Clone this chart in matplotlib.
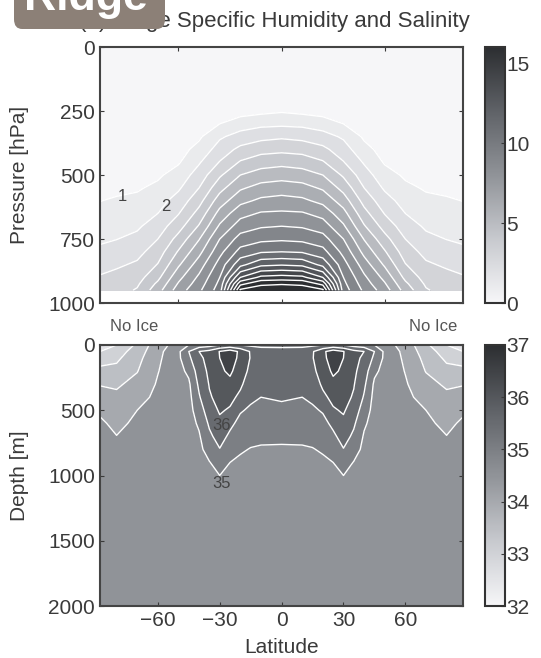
import numpy as np
import matplotlib
matplotlib.use('Agg')
import matplotlib.pyplot as plt
from matplotlib.colors import LinearSegmentedColormap, Normalize
from matplotlib.patches import FancyBboxPatch
import matplotlib.cm as cm

#==============================================================================
#                         Data (southern half)
#==============================================================================
lat_half = np.array([-88, -80, -70, -60, -50, -40, -30, -20, -10, 0])
pres = np.array([0, 150, 250, 300, 350, 400, 450, 500, 550, 600, 650, 700,
                 750, 800, 850, 900, 925, 950])
# specific humidity [g/kg], one column per latitude
q_m88 = [0, .05, .1, .15, .2, .3, .4, .55, .75, .98, 1.25, 1.55, 1.85, 2.2, 2.6, 3.1, 3.25, 3.4]
q_m80 = [0, .05, .1, .15, .2, .3, .45, .6, .8, 1.1, 1.4, 1.7, 1.98, 2.4, 2.85, 3.3, 3.45, 3.6]
q_m70 = [0, .05, .1, .15, .25, .35, .5, .65, .9, 1.2, 1.5, 1.85, 2.25, 2.7, 3.15, 3.6, 3.85, 4.1]
q_m60 = [0, .05, .15, .25, .35, .5, .65, .85, 1.2, 1.6, 2.0, 2.5, 3.0, 3.5, 4.05, 4.75, 5.2, 5.6]
q_m50 = [0, .05, .2, .3, .45, .65, .9, 1.4, 1.85, 2.4, 2.95, 3.6, 4.35, 5.1, 5.85, 6.7, 7.1, 7.5]
q_m40 = [0, .1, .35, .6, .85, 1.3, 1.9, 2.45, 3.0, 3.65, 4.35, 5.1, 5.95, 6.7, 7.5, 8.2, 8.5, 8.8]
q_m30 = [0, .2, .5, 1.0, 1.85, 2.45, 3.05, 3.85, 4.65, 5.5, 6.35, 7.15, 8.0, 8.7, 9.4, 10.0, 10.25, 10.5]
q_m20 = [0, .25, .6, 1.5, 2.4, 3.25, 4.1, 5.0, 5.85, 6.7, 7.65, 8.5, 9.4, 10.35, 11.7, 14.0, 15.7, 17.2]
q_m10 = [0, .3, .75, 1.75, 2.7, 3.65, 4.55, 5.45, 6.35, 7.2, 8.1, 8.9, 9.75, 10.9, 12.75, 15.25, 16.8, 17.6]
q_0 = [0, .3, .9, 1.8, 2.85, 3.75, 4.7, 5.6, 6.5, 7.35, 8.15, 9.0, 9.85, 11.0, 12.9, 15.4, 16.9, 17.8]

slat_half = np.array([-88, -80, -70, -60, -50, -45, -40, -35, -30, -25, -20, -15, -10, 0])
depth = np.array([0, 50, 100, 200, 300, 400, 500, 600, 700, 800, 900, 1000, 1200, 1500, 2000])
# salinity [psu], one column per latitude
s_m88 = [32.8, 33.0, 33.3, 33.62, 33.97, 34.2, 34.42, 34.58, 34.66, 34.71, 34.74, 34.76, 34.78, 34.78, 34.77]
s_m80 = [33.0, 33.25, 33.4, 33.65, 33.93, 34.1, 34.22, 34.38, 34.51, 34.62, 34.7, 34.74, 34.78, 34.78, 34.77]
s_m70 = [33.6, 33.75, 33.85, 33.98, 34.15, 34.32, 34.5, 34.6, 34.68, 34.72, 34.75, 34.77, 34.78, 34.78, 34.77]
s_m60 = [34.3, 34.35, 34.4, 34.48, 34.55, 34.62, 34.68, 34.72, 34.75, 34.77, 34.78, 34.79, 34.79, 34.78, 34.77]
s_m50 = [34.7, 34.9, 34.9, 34.85, 34.82, 34.8, 34.8, 34.8, 34.8, 34.8, 34.8, 34.8, 34.8, 34.78, 34.77]
s_m45 = [35.0, 35.5, 35.4, 35.1, 34.92, 34.85, 34.83, 34.82, 34.81, 34.8, 34.8, 34.8, 34.8, 34.78, 34.77]
s_m40 = [35.2, 36.0, 35.9, 35.75, 35.6, 35.45, 35.25, 35.07, 34.95, 34.88, 34.85, 34.83, 34.81, 34.79, 34.77]
s_m35 = [35.3, 36.15, 36.15, 36.1, 36.03, 35.95, 35.78, 35.58, 35.4, 35.2, 34.98, 34.88, 34.82, 34.8, 34.77]
s_m30 = [35.5, 36.52, 36.5, 36.4, 36.25, 36.15, 36.05, 35.9, 35.7, 35.48, 35.2, 35.0, 34.85, 34.8, 34.77]
s_m25 = [35.6, 36.75, 36.72, 36.6, 36.35, 36.12, 35.95, 35.62, 35.4, 35.2, 35.0, 34.9, 34.82, 34.8, 34.77]
s_m20 = [35.5, 36.4, 36.38, 36.2, 36.08, 35.9, 35.55, 35.35, 35.2, 35.05, 34.92, 34.87, 34.82, 34.8, 34.77]
s_m15 = [35.4, 35.95, 35.97, 35.9, 35.75, 35.6, 35.42, 35.28, 35.12, 34.98, 34.9, 34.86, 34.82, 34.8, 34.77]
s_m10 = [35.3, 35.85, 35.9, 35.9, 35.75, 35.5, 35.38, 35.25, 35.08, 34.96, 34.89, 34.85, 34.81, 34.79, 34.77]
s_0 = [35.3, 35.8, 35.85, 35.85, 35.75, 35.55, 35.4, 35.25, 35.08, 34.95, 34.88, 34.85, 34.8, 34.78, 34.75]

q_levels = np.arange(0, 19)
s_levels = np.arange(32.0, 37.5, 0.5)

#==============================================================================
#                         Build symmetric fields
#==============================================================================
q_half = np.array([q_m88, q_m80, q_m70, q_m60, q_m50, q_m40, q_m30, q_m20, q_m10, q_0]).T
s_half = np.array([s_m88, s_m80, s_m70, s_m60, s_m50, s_m45, s_m40, s_m35, s_m30,
                   s_m25, s_m20, s_m15, s_m10, s_0]).T
lat = np.concatenate([lat_half, -lat_half[-2::-1]])
slat = np.concatenate([slat_half, -slat_half[-2::-1]])
Q = np.concatenate([q_half, q_half[:, -2::-1]], axis=1)
S = np.concatenate([s_half, s_half[:, -2::-1]], axis=1)

#==============================================================================
#                         Plotting
#==============================================================================
plt.rcParams['font.family'] = ['Liberation Sans', 'DejaVu Sans']
tc = '#3a3a3a'
cmap = LinearSegmentedColormap.from_list('gr', ['#f6f6f8', '#c7c9ce', '#909398', '#5f6267', '#2c2e31'])

fig = plt.figure(figsize=(5.41, 6.58), dpi=100)
ax1 = fig.add_axes([0.185, 0.5395, 0.671, 0.389])
ax2 = fig.add_axes([0.185, 0.079, 0.671, 0.3967])
cax1 = fig.add_axes([0.8965, 0.5395, 0.037, 0.389])
cax2 = fig.add_axes([0.8965, 0.079, 0.037, 0.3967])

norm1 = Normalize(0, 16)
norm2 = Normalize(32, 37)
col1 = [cmap(norm1(min(v, 16))) for v in q_levels[:-1]]
col2 = [cmap(norm2(v)) for v in s_levels[:-1]]

ax1.contourf(lat, pres, Q, levels=q_levels, colors=col1)
ax1.contour(lat, pres, Q, levels=q_levels[1:], colors='white', linewidths=1.0)
ax1.set_xlim(-88, 88)
ax1.set_ylim(1000, 0)
ax1.set_yticks([0, 250, 500, 750, 1000])
ax1.set_xticks([-50, 0, 50])
ax1.set_xticklabels([])
ax1.set_ylabel('Pressure [hPa]', fontsize=15, color=tc)
ax1.yaxis.set_label_coords(-0.195, 0.5)
ax1.text(-77, 585, '1', fontsize=12, color='#444444', ha='center', va='center')
ax1.text(-56, 622, '2', fontsize=12, color='#444444', ha='center', va='center')

ax2.contourf(slat, depth, S, levels=s_levels, colors=col2)
ax2.contour(slat, depth, S, levels=s_levels[1:-1], colors='white', linewidths=1.0)
ax2.set_xlim(-88, 88)
ax2.set_ylim(2000, 0)
ax2.set_yticks([0, 500, 1000, 1500, 2000])
ax2.set_xticks([-60, -30, 0, 30, 60])
ax2.set_ylabel('Depth [m]', fontsize=15, color=tc)
ax2.yaxis.set_label_coords(-0.195, 0.5)
ax2.set_xlabel('Latitude', fontsize=15, color=tc, labelpad=6)
ax2.text(-29, 615, '36', fontsize=12, color='#444444', ha='center', va='center')
ax2.text(-29, 1065, '35', fontsize=12, color='#444444', ha='center', va='center')
ax2.text(0.028, 1.07, 'No Ice', transform=ax2.transAxes, fontsize=12, color='#555555', ha='left', va='center')
ax2.text(0.983, 1.07, 'No Ice', transform=ax2.transAxes, fontsize=12, color='#555555', ha='right', va='center')

for ax in (ax1, ax2):
    ax.tick_params(direction='in', top=True, right=True, labelsize=15, colors=tc, length=3)
    for sp in ax.spines.values():
        sp.set_linewidth(1.5)
        sp.set_color('#444444')

cb1 = fig.colorbar(cm.ScalarMappable(norm=norm1, cmap=cmap), cax=cax1, ticks=[0, 5, 10, 15])
cb2 = fig.colorbar(cm.ScalarMappable(norm=norm2, cmap=cmap), cax=cax2, ticks=[32, 33, 34, 35, 36, 37])
for cb in (cb1, cb2):
    cb.ax.tick_params(direction='in', labelsize=15, colors=tc, length=3, pad=1)
    cb.outline.set_linewidth(1.5)
    cb.outline.set_edgecolor('#333333')

# title, right end fixed as in the picture
fig.text(470 / 541, 1 - 27 / 658, '(a) Ridge Specific Humidity and Salinity', fontsize=16,
         color=tc, ha='right', va='baseline')

# label box in the corner
box = FancyBboxPatch((14 / 541, 1 - 29 / 658), 151 / 541, 60 / 658,
                     boxstyle='round,pad=0,rounding_size=0.015', transform=fig.transFigure,
                     facecolor='#8c8077', edgecolor='none', zorder=10)
fig.patches.append(box)
fig.text(86 / 541, 1 - 10 / 658, 'Ridge', fontsize=32, fontweight='bold', color='white',
         ha='center', va='baseline', zorder=11)

fig.savefig('out.png', dpi=100)
